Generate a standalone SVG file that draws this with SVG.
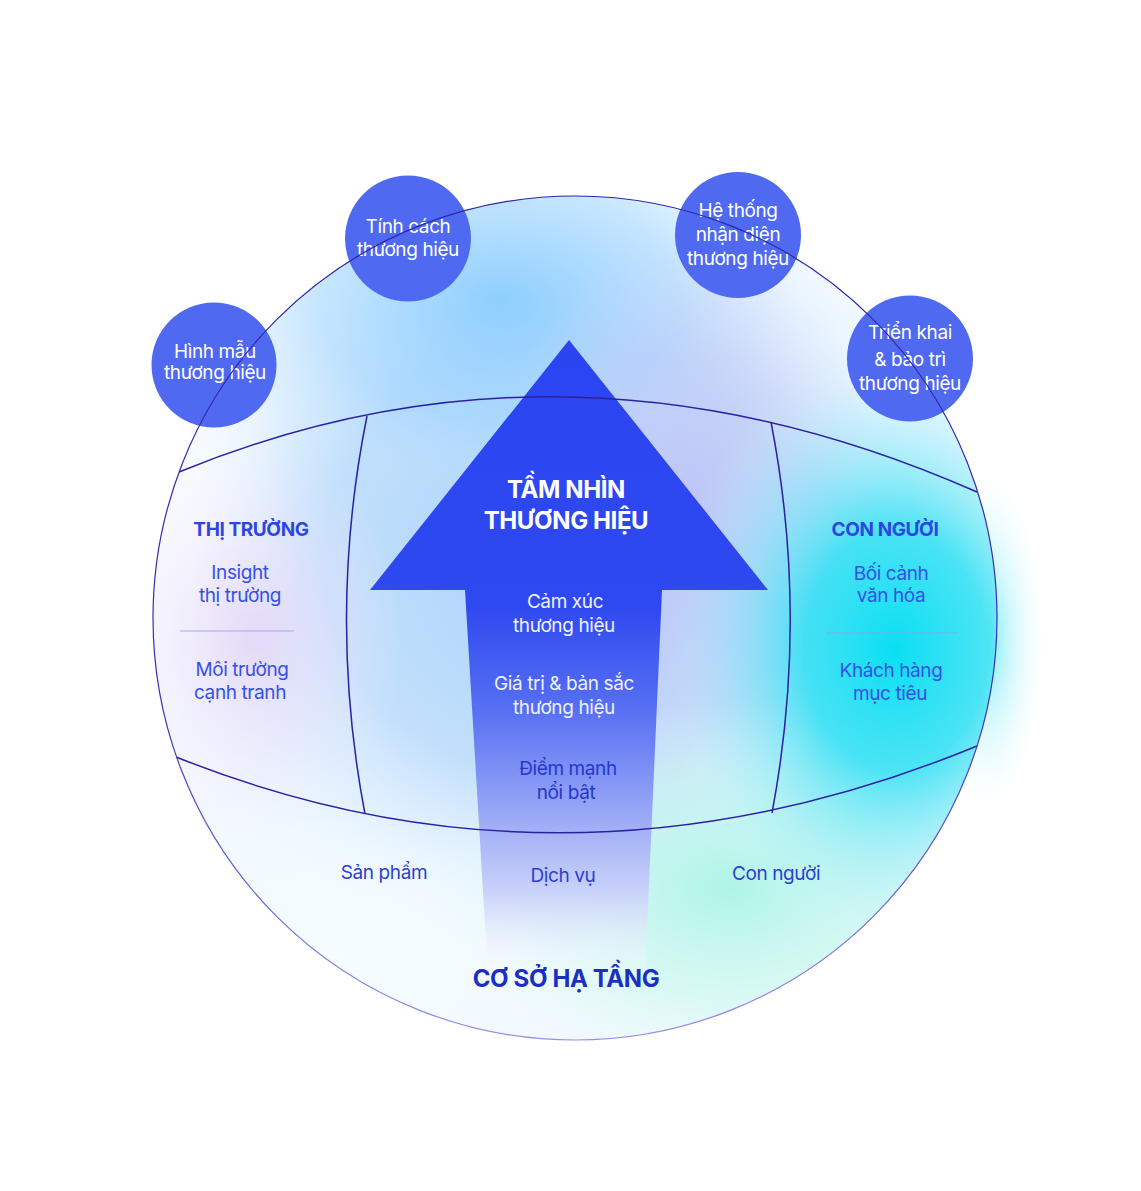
<svg xmlns="http://www.w3.org/2000/svg" width="1141" height="1191" viewBox="0 0 1141 1191">
<defs>
<style>
.t{font-family:Inter,"Noto Sans",sans-serif;text-anchor:middle;letter-spacing:-0.4px}
.cw{font-size:19px;fill:#ffffff}
.aw{font-size:19px;fill:#eef1ff}
.ad{font-size:19px;fill:#2537cc}
.side{font-size:19px;fill:#3550e8}
.head{font-size:19px;font-weight:700;fill:#2d46e2}
.big{font-size:24px;font-weight:700}
.bot{font-size:19px;fill:#2a3fd2}
.line{fill:none;stroke:#2b20a2;stroke-width:1.5}
.div{stroke:#8da0ee;stroke-width:1;opacity:0.8}
.bub{fill:#4f69f1}
</style>
<clipPath id="clip"><circle cx="575" cy="618" r="422"/></clipPath>
<radialGradient id="gBase" gradientUnits="userSpaceOnUse" cx="0" cy="0" r="1" gradientTransform="translate(560 560) scale(430 400)">
<stop offset="0" stop-color="#a4cffa" stop-opacity="0.95"/>
<stop offset="0.55" stop-color="#b6d9fb" stop-opacity="0.8"/>
<stop offset="1" stop-color="#e6f3ff" stop-opacity="0"/>
</radialGradient>
<radialGradient id="gSky" gradientUnits="userSpaceOnUse" cx="0" cy="0" r="1" gradientTransform="translate(500 300) scale(300 200)">
<stop offset="0" stop-color="#7cc8ff" stop-opacity="0.8"/>
<stop offset="0.6" stop-color="#98d2ff" stop-opacity="0.45"/>
<stop offset="1" stop-color="#c4e6ff" stop-opacity="0"/>
</radialGradient>
<radialGradient id="gLav" gradientUnits="userSpaceOnUse" cx="0" cy="0" r="1" gradientTransform="translate(690 520) scale(200 290)">
<stop offset="0" stop-color="#c0bcf3" stop-opacity="0.75"/>
<stop offset="0.6" stop-color="#c8c6f5" stop-opacity="0.4"/>
<stop offset="1" stop-color="#d8d6f8" stop-opacity="0"/>
</radialGradient>
<radialGradient id="gPink" gradientUnits="userSpaceOnUse" cx="0" cy="0" r="1" gradientTransform="translate(255 640) scale(150 200)">
<stop offset="0" stop-color="#e4d6f7" stop-opacity="0.9"/>
<stop offset="1" stop-color="#efe8fb" stop-opacity="0"/>
</radialGradient>
<radialGradient id="gWhiteL" gradientUnits="userSpaceOnUse" cx="0" cy="0" r="1" gradientTransform="translate(190 560) scale(110 260)">
<stop offset="0" stop-color="#ffffff" stop-opacity="0.8"/>
<stop offset="1" stop-color="#ffffff" stop-opacity="0"/>
</radialGradient>
<radialGradient id="gMint" gradientUnits="userSpaceOnUse" cx="0" cy="0" r="1" gradientTransform="translate(730 890) scale(290 190)">
<stop offset="0" stop-color="#a2f4e2" stop-opacity="0.85"/>
<stop offset="0.6" stop-color="#c4f8ec" stop-opacity="0.5"/>
<stop offset="1" stop-color="#e4fcf6" stop-opacity="0"/>
</radialGradient>
<radialGradient id="gBotW" gradientUnits="userSpaceOnUse" cx="0" cy="0" r="1" gradientTransform="translate(340 960) scale(240 150)">
<stop offset="0" stop-color="#f4fdff" stop-opacity="0.9"/>
<stop offset="1" stop-color="#f4fdff" stop-opacity="0"/>
</radialGradient>
<radialGradient id="gCyan" gradientUnits="userSpaceOnUse" cx="0" cy="0" r="1" gradientTransform="translate(895 650) scale(230 300)">
<stop offset="0" stop-color="#0adff2" stop-opacity="1"/>
<stop offset="0.4" stop-color="#2ee0f3" stop-opacity="0.85"/>
<stop offset="0.75" stop-color="#8aeaf8" stop-opacity="0.35"/>
<stop offset="1" stop-color="#c8f5fc" stop-opacity="0"/>
</radialGradient>
<radialGradient id="gCyanOut" gradientUnits="userSpaceOnUse" cx="0" cy="0" r="1" gradientTransform="translate(985 640) scale(60 170)">
<stop offset="0" stop-color="#30e2f4" stop-opacity="0.7"/>
<stop offset="0.5" stop-color="#8eeef9" stop-opacity="0.35"/>
<stop offset="1" stop-color="#d8f8fd" stop-opacity="0"/>
</radialGradient>
<linearGradient id="gArrow" gradientUnits="userSpaceOnUse" x1="0" y1="340" x2="0" y2="975">
<stop offset="0" stop-color="#2a44f2"/>
<stop offset="0.42" stop-color="#2f49f0"/>
<stop offset="0.58" stop-color="#566ff2"/>
<stop offset="0.74" stop-color="#96a6f6"/>
<stop offset="0.87" stop-color="#cad2fa"/>
<stop offset="1" stop-color="#ffffff" stop-opacity="0.2"/>
</linearGradient>
<linearGradient id="gRing" gradientUnits="userSpaceOnUse" x1="0" y1="196" x2="0" y2="1040">
<stop offset="0" stop-color="#2e24a6"/>
<stop offset="0.6" stop-color="#3a2fb4"/>
<stop offset="1" stop-color="#9a8cec"/>
</linearGradient>
</defs>
<rect width="1141" height="1191" fill="#ffffff"/>
<g id="background">
<ellipse cx="985" cy="640" rx="60" ry="170" fill="url(#gCyanOut)"/>
<g clip-path="url(#clip)">
<circle cx="575" cy="618" r="422" fill="#f2f9ff"/>
<rect x="150" y="190" width="850" height="860" fill="url(#gBase)"/>
<rect x="150" y="190" width="850" height="860" fill="url(#gSky)"/>
<rect x="150" y="190" width="850" height="860" fill="url(#gLav)"/>
<rect x="150" y="190" width="850" height="860" fill="url(#gWhiteL)"/>
<rect x="150" y="190" width="850" height="860" fill="url(#gPink)"/>
<rect x="150" y="190" width="850" height="860" fill="url(#gBotW)"/>
<rect x="150" y="190" width="850" height="860" fill="url(#gMint)"/>
<rect x="150" y="190" width="850" height="860" fill="url(#gCyan)"/>
</g>
</g>
<g id="vision-arrow">
<path d="M569,340 L768,590 L662,590 L645,975 L488,975 L465,590 L370,590 Z" fill="url(#gArrow)"/>
</g>
<g id="connectors">
<path class="line" d="M179,472 Q569,312 977,492"/>
<path class="line" d="M176,757 Q569,914 977,746"/>
<path class="line" d="M367,416 Q327,615 365,814"/>
<path class="line" d="M771,422 Q809,617 772,813"/>
<line class="div" x1="180" y1="631" x2="294" y2="631"/>
<line class="div" x1="826" y1="633" x2="958" y2="633"/>
</g>
<g id="node-hinh-mau">
<circle class="bub" cx="214" cy="365" r="62.5"/>
<text class="t cw" x="215" y="358">Hình mẫu</text>
<text class="t cw" x="215" y="379">thương hiệu</text>
</g>
<g id="node-tinh-cach">
<circle class="bub" cx="408" cy="238.5" r="63"/>
<text class="t cw" x="408" y="233">Tính cách</text>
<text class="t cw" x="408" y="256">thương hiệu</text>
</g>
<g id="node-he-thong">
<circle class="bub" cx="738" cy="235" r="63"/>
<text class="t cw" x="738" y="217">Hệ thống</text>
<text class="t cw" x="738" y="241">nhận diện</text>
<text class="t cw" x="738" y="265">thương hiệu</text>
</g>
<g id="node-trien-khai">
<circle class="bub" cx="910" cy="358.5" r="63"/>
<text class="t cw" x="910" y="339">Triển khai</text>
<text class="t cw" x="910" y="366">&amp; bảo trì</text>
<text class="t cw" x="910" y="390">thương hiệu</text>
</g>
<g id="ring">
<circle cx="575" cy="618" r="422" fill="none" stroke="url(#gRing)" stroke-width="1.2"/>
</g>
<g id="node-tam-nhin">
<text class="t big" x="566" y="498" fill="#ffffff">TẦM NHÌN</text>
<text class="t big" x="566" y="529" fill="#ffffff">THƯƠNG HIỆU</text>
<text class="t aw" x="565" y="608">Cảm xúc</text>
<text class="t aw" x="564" y="632">thương hiệu</text>
<text class="t aw" x="564" y="690">Giá trị &amp; bản sắc</text>
<text class="t aw" x="564" y="714">thương hiệu</text>
<text class="t ad" x="568" y="775">Điểm mạnh</text>
<text class="t ad" x="566" y="799">nổi bật</text>
</g>
<g id="node-thi-truong">
<text class="t head" x="251" y="536">THỊ TRƯỜNG</text>
<text class="t side" x="240" y="579">Insight</text>
<text class="t side" x="240" y="602">thị trường</text>
<text class="t side" x="242" y="676">Môi trường</text>
<text class="t side" x="240" y="699">cạnh tranh</text>
</g>
<g id="node-con-nguoi">
<text class="t head" x="885" y="536">CON NGƯỜI</text>
<text class="t side" x="891" y="580">Bối cảnh</text>
<text class="t side" x="891" y="602">văn hóa</text>
<text class="t side" x="891" y="677">Khách hàng</text>
<text class="t side" x="890" y="700">mục tiêu</text>
</g>
<g id="node-co-so-ha-tang">
<text class="t bot" x="384" y="879">Sản phẩm</text>
<text class="t bot" x="563" y="882">Dịch vụ</text>
<text class="t bot" x="776" y="880">Con người</text>
<text class="t big" x="566" y="987" fill="#1b30c2">CƠ SỞ HẠ TẦNG</text>
</g>
</svg>
